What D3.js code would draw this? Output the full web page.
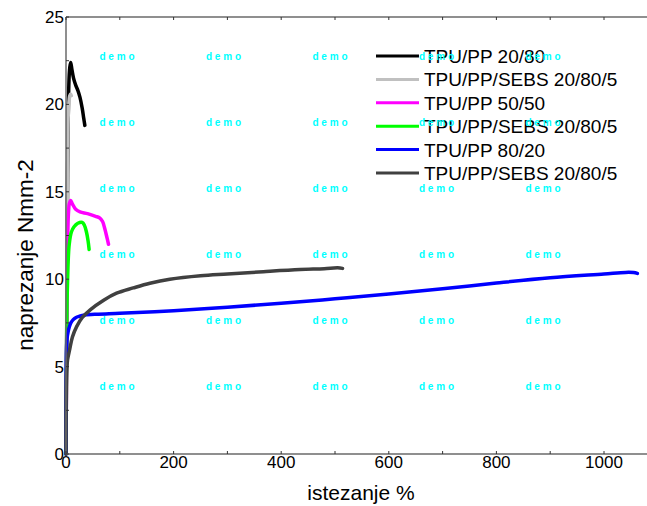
<!DOCTYPE html>
<html><head><meta charset="utf-8">
<script src="https://cdn.jsdelivr.net/npm/d3@7"></script>
<style>html,body{margin:0;padding:0;background:#fff;overflow:hidden}</style>
</head><body>
<svg id="c" width="647" height="506"></svg>
<script>
const seriesNames = ["TPU/PP 20/80","TPU/PP/SEBS 20/80/5","TPU/PP 50/50","TPU/PP/SEBS 20/80/5","TPU/PP 80/20","TPU/PP/SEBS 20/80/5"];
const seriesColors = ["#000000","#c0c0c0","#ff00ff","#00ff00","#0000ff","#404040"];
const strain1 = [0,1,2,3,4,5,6,7,8.7,11,14,18,22,26,30,33,35];
const stress1 = [0,5,11,16,19,20.8,21.7,22.1,22.4,22.0,21.5,21.1,20.8,20.4,19.8,19.2,18.8];
const strain2 = [0,1,2,3,3.5,4,5,6,7,8.5,10];
const stress2 = [0,6,12,16,18,19.2,19.9,20.3,20.5,20.6,20.5];
const strain3 = [0,1,2,3,4,5,6,8.7,12,18,26,40,55,63,68,72,76,79];
const stress3 = [0,5,9,12,13.4,14.0,14.3,14.5,14.3,14.0,13.85,13.75,13.6,13.5,13.3,12.9,12.4,12.0];
const strain4 = [0,0.5,1,1.5,2,3,4,6,10,15,22,30,34,38,41,43];
const stress4 = [0,3,5.5,7.5,8.8,10,11,12,12.7,13.0,13.2,13.25,13.1,12.7,12.2,11.7];
const strain5 = [0,0.3,1,2,4,6,9,13,18,25,35,60,100,200,300,400,500,600,700,800,900,1000,1040,1055,1062];
const stress5 = [0,4,6.0,6.6,7.0,7.25,7.5,7.67,7.8,7.88,7.95,8.0,8.05,8.2,8.4,8.62,8.88,9.15,9.45,9.78,10.08,10.3,10.39,10.38,10.33];
const strain6 = [0,0.3,1,3,7,12,20,30,45,70,94,125,156,193,250,300,367,435,480,505,514];
const stress6 = [0,3,4.6,5.4,6.0,6.7,7.3,7.8,8.25,8.8,9.2,9.5,9.77,10.0,10.2,10.3,10.43,10.55,10.6,10.65,10.62];
const strains = [strain1,strain2,strain3,strain4,strain5,strain6];
const stresses = [stress1,stress2,stress3,stress4,stress5,stress6];
const xTickLabels = [0,200,400,600,800,1000];
const xMinorTicks = [0,100,200,300,400,500,600,700,800,900,1000];
const yTickLabels = [0,5,10,15,20,25];
const yMinorTicks = [0,2.5,5,7.5,10,12.5,15,17.5,20,22.5,25];
const xTitle = "istezanje %";
const yTitle = "naprezanje Nmm-2";
const watermark = "d e m o";

const svg = d3.select("#c");
const mLeft = 66, mTop = 17, mBottom = 454;
const x = d3.scaleLinear().domain([0,1100]).range([mLeft, mLeft + 1100*0.538]);
const y = d3.scaleLinear().domain([0,25]).range([mBottom, mTop]);
const font = "Arial, 'Liberation Sans', sans-serif";
const axisColor = "#6a6a6a";

// curves
const lineGen = d3.line().x(d => x(d[0])).y(d => y(d[1])).curve(d3.curveCatmullRom.alpha(0.5));
seriesNames.forEach((n,i) => {
  const pts = strains[i].map((s,k) => [s, stresses[i][k]]);
  svg.append("path").attr("d", lineGen(pts))
    .attr("fill","none").attr("stroke",seriesColors[i]).attr("stroke-width",3.5)
    .attr("stroke-linejoin","round").attr("stroke-linecap","round");
});

// axes lines
const ax = svg.append("g");
ax.append("line").attr("x1",mLeft).attr("x2",647).attr("y1",mBottom).attr("y2",mBottom).attr("stroke",axisColor).attr("stroke-width",1.5);
ax.append("line").attr("x1",mLeft).attr("x2",647).attr("y1",mTop).attr("y2",mTop).attr("stroke",axisColor).attr("stroke-width",1.5);
ax.append("line").attr("x1",mLeft).attr("x2",mLeft).attr("y1",mTop).attr("y2",mBottom).attr("stroke",axisColor).attr("stroke-width",1.5);
// minor ticks (inward)
xMinorTicks.forEach(v => {
  ax.append("line").attr("x1",x(v)).attr("x2",x(v)).attr("y1",mBottom).attr("y2",mBottom-3).attr("stroke","#333").attr("stroke-width",1);
  ax.append("line").attr("x1",x(v)).attr("x2",x(v)).attr("y1",mTop).attr("y2",mTop+3).attr("stroke","#333").attr("stroke-width",1);
});
yMinorTicks.forEach(v => {
  ax.append("line").attr("x1",mLeft).attr("x2",mLeft+3).attr("y1",y(v)).attr("y2",y(v)).attr("stroke","#333").attr("stroke-width",1);
});
// tick labels
xTickLabels.forEach(v => {
  svg.append("text").attr("x",x(v)).attr("y",468).attr("text-anchor","middle")
    .attr("font-family",font).attr("font-size",17).attr("fill","#000").text(v);
});
yTickLabels.forEach(v => {
  svg.append("text").attr("x",64).attr("y",y(v)+6).attr("text-anchor","end")
    .attr("font-family",font).attr("font-size",17).attr("fill","#000").text(v);
});
// titles
svg.append("text").attr("x",361).attr("y",500).attr("text-anchor","middle")
  .attr("font-family",font).attr("font-size",21).text(xTitle);
svg.append("text").attr("transform","translate(33,255) rotate(-90)").attr("text-anchor","middle")
  .attr("font-family",font).attr("font-size",22.5).text(yTitle);

// legend
seriesNames.forEach((n,i) => {
  const ly = 56 + i*23.4;
  svg.append("line").attr("x1",376).attr("x2",419).attr("y1",ly).attr("y2",ly)
    .attr("stroke",seriesColors[i]).attr("stroke-width",3);
  svg.append("text").attr("x",424).attr("y",ly+7).attr("font-family",font).attr("font-size",19).text(n);
});

// watermark
for (let r = 0; r < 6; r++) {
  for (let c = 0; c < 5; c++) {
    svg.append("text").attr("x",117 + c*106.5).attr("y",59.5 + r*66)
      .attr("text-anchor","middle").attr("font-family",font).attr("font-size",10)
      .attr("font-weight","bold").attr("fill","#00ffff").text(watermark);
  }
}
</script>
</body></html>
